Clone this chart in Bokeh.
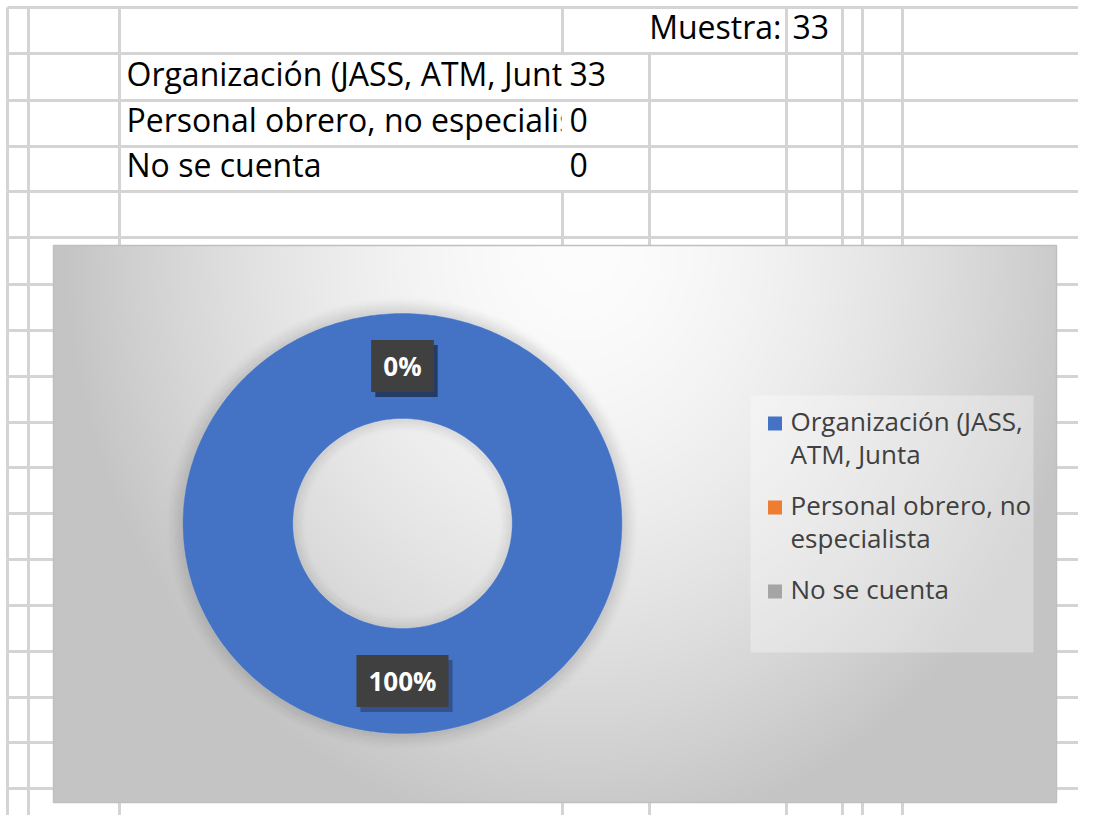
import numpy as np
from bokeh.plotting import figure
from bokeh.models import Range1d
from bokeh.embed import file_html
from bokeh.resources import INLINE
from bokeh.core.properties import value

# ---------------- data ----------------
sample_label = "Muestra:"
sample_size = 33
categories = ["Organización (JASS, ATM, Junta", "Personal obrero, no especialista", "No se cuenta"]
counts = [33, 0, 0]
colors = ["#4472C4", "#ED7D31", "#A5A5A5"]

# ---------------- layout (picture pixels) ----------------
W, H = 1078, 815
col_x = [7, 28, 119, 562, 649, 786, 842, 862, 902, 1091]
row_y = [7, 53, 100, 146, 191, 237, 284, 330, 376, 422, 467, 513, 559, 605, 651, 697, 742, 788]
page_bottom = 831
grid_color = "#d4d4d4"
FONT = value("Open Sans")

p = figure(width=W, height=H, x_range=Range1d(0, W), y_range=Range1d(H, 0),
           output_backend="svg", toolbar_location=None, min_border=0,
           x_axis_location=None, y_axis_location=None, background_fill_color="white",
           border_fill_color="white", outline_line_color=None)
p.grid.visible = False

# ---------------- spreadsheet ----------------
cell_font = "32px"
label_x = col_x[2] + 7
value_x = col_x[3] + 7
rows_mid = [row_y[i + 2] - 27 for i in range(len(categories))]

p.text(x=[label_x] * len(categories), y=rows_mid, text=categories,
       text_font=FONT, text_font_size=cell_font, text_color="black",
       text_baseline="middle", text_align="left")

# clip overflowing labels at the value column
p.quad(left=[col_x[3] - 1] * len(categories), right=[col_x[4] - 1.5] * len(categories),
       top=[row_y[i + 1] + 1.5 for i in range(len(categories))],
       bottom=[row_y[i + 2] - 1.5 for i in range(len(categories))],
       fill_color="white", line_color=None)

# gridlines
bands = list(zip(row_y, row_y[1:] + [page_bottom]))
hx0, hy0, hx1, hy1 = [], [], [], []
for y in row_y:
    hx0.append(col_x[0]); hx1.append(col_x[-1]); hy0.append(y); hy1.append(y)
for x in col_x:
    for bi, (ya, yb) in enumerate(bands):
        if x == col_x[4] and bi == 0:
            continue
        if x == col_x[3] and 1 <= bi <= 3:
            continue
        hx0.append(x); hx1.append(x); hy0.append(ya); hy1.append(yb)
p.segment(x0=hx0, y0=hy0, x1=hx1, y1=hy1, line_color=grid_color, line_width=3)

p.text(x=[col_x[5] - 5], y=[row_y[1] - 27], text=[sample_label], text_font=FONT,
       text_font_size=cell_font, text_color="black", text_baseline="middle", text_align="right")
p.text(x=[col_x[5] + 6], y=[row_y[1] - 27], text=[str(sample_size)], text_font=FONT,
       text_font_size=cell_font, text_color="black", text_baseline="middle", text_align="left")
p.text(x=[value_x] * len(counts), y=rows_mid, text=[str(c) for c in counts], text_font=FONT,
       text_font_size=cell_font, text_color="black", text_baseline="middle", text_align="left")

# ---------------- chart area ----------------
cx0, cy0, cx1, cy1 = 53, 245, 1056, 802
nx, ny = 502, 279
gx = np.linspace(cx0, cx1, nx)
gy = np.linspace(cy0, cy1, ny)
GX, GY = np.meshgrid(gx, gy)
t = np.sqrt(((GX - 580) / 520.0) ** 2 + ((GY - 245) / 600.0) ** 2)
v = (253 - 57 * np.clip(t, 0, 1) ** 1.6).astype(np.uint8)
img = np.empty((ny, nx), dtype=np.uint32)
view = img.view(dtype=np.uint8).reshape((ny, nx, 4))
view[:, :, 0] = v
view[:, :, 1] = v
view[:, :, 2] = v
view[:, :, 3] = 255
p.image_rgba(image=[img], x=cx0, y=cy0, dw=cx1 - cx0, dh=cy1 - cy0)
p.quad(left=[cx0], right=[cx1], top=[cy0], bottom=[cy1], fill_color=None,
       line_color="#bfbfbf", line_width=1.5)

# donut geometry
dcx, dcy = 402, 523
ry_out = 210
aspect = 1.045
hole = 0.5
rx_out = ry_out * aspect
rx_in, ry_in = rx_out * hole, ry_out * hole

# soft shadow around the ring
for k in range(1, 19):
    a = 0.09 * (1 - k / 19.0) ** 1.5
    p.ellipse(x=[dcx], y=[dcy], width=[2 * (rx_out + k)], height=[2 * (ry_out + k)],
              fill_color=None, line_color="black", line_alpha=a, line_width=1.5)
for k in range(1, 15):
    a = 0.07 * (1 - k / 15.0) ** 1.5
    p.ellipse(x=[dcx], y=[dcy], width=[2 * (rx_in - k)], height=[2 * (ry_in - k)],
              fill_color=None, line_color="black", line_alpha=a, line_width=1.5)

total = float(sum(counts))
fracs = [c / total for c in counts]
starts = np.concatenate([[0.0], np.cumsum(fracs)[:-1]])
ends = np.cumsum(fracs)

xs_list, ys_list, cols = [], [], []
for s, e, col in zip(starts, ends, colors):
    if e - s <= 0:
        continue
    n = max(3, int(400 * (e - s)))
    th = np.linspace(2 * np.pi * s, 2 * np.pi * e, n)
    ox = dcx + rx_out * np.sin(th)
    oy = dcy - ry_out * np.cos(th)
    ix = dcx + rx_in * np.sin(th[::-1])
    iy = dcy - ry_in * np.cos(th[::-1])
    xs_list.append(np.concatenate([ox, ix]).tolist())
    ys_list.append(np.concatenate([oy, iy]).tolist())
    cols.append(col)
p.patches(xs=xs_list, ys=ys_list, fill_color=cols, line_color=cols, line_width=0.5)

# data labels (percentages) at the middle of each slice
mid_r = (1 + hole) / 2
lab_x, lab_y, lab_t = [], [], []
for s, e, f in zip(starts, ends, fracs):
    m = 2 * np.pi * (s + e) / 2
    lab_x.append(dcx + rx_out * mid_r * np.sin(m))
    lab_y.append(dcy - ry_out * mid_r * np.cos(m))
    lab_t.append(f"{round(f * 100):.0f}%")
pad = dict(left=12, right=12, top=8, bottom=8)
p.text(x=lab_x, y=lab_y, text=lab_t, text_font=FONT, text_font_size="26px",
       text_font_style="bold", text_alpha=0, text_align="center", text_baseline="middle",
       background_fill_color="black", background_fill_alpha=0.28, padding=pad,
       x_offset=4, y_offset=5)
p.text(x=lab_x, y=lab_y, text=lab_t, text_font=FONT, text_font_size="26px",
       text_font_style="bold", text_color="white", text_align="center", text_baseline="middle",
       background_fill_color="#404040", padding=pad)

# ---------------- legend ----------------
def wrap(label, maxchars=19):
    lines, cur = [], ""
    for w in label.split(" "):
        cand = (cur + " " + w).strip()
        if len(cand) <= maxchars or not cur:
            cur = cand
        else:
            lines.append(cur)
            cur = w
    lines.append(cur)
    return lines

p.quad(left=[750], right=[1033], top=[395], bottom=[652], fill_color="white",
       fill_alpha=0.32, line_color=None)
lg_line_h, lg_gap = 33.5, 17
ly = 423
tx, ty, tt, sq_y = [], [], [], []
for cat in categories:
    lines = wrap(cat)
    sq_y.append(ly)
    for j, ln in enumerate(lines):
        tx.append(790); ty.append(ly + j * lg_line_h - 3); tt.append(ln)
    ly += len(lines) * lg_line_h + lg_gap
p.rect(x=[774.5] * len(categories), y=sq_y, width=14, height=14, fill_color=colors, line_color=None)
p.text(x=tx, y=ty, text=tt, text_font=FONT, text_font_size="26px", text_color="#404040",
       text_baseline="middle", text_align="left")

open("out.html", "w").write(file_html(p, INLINE))
